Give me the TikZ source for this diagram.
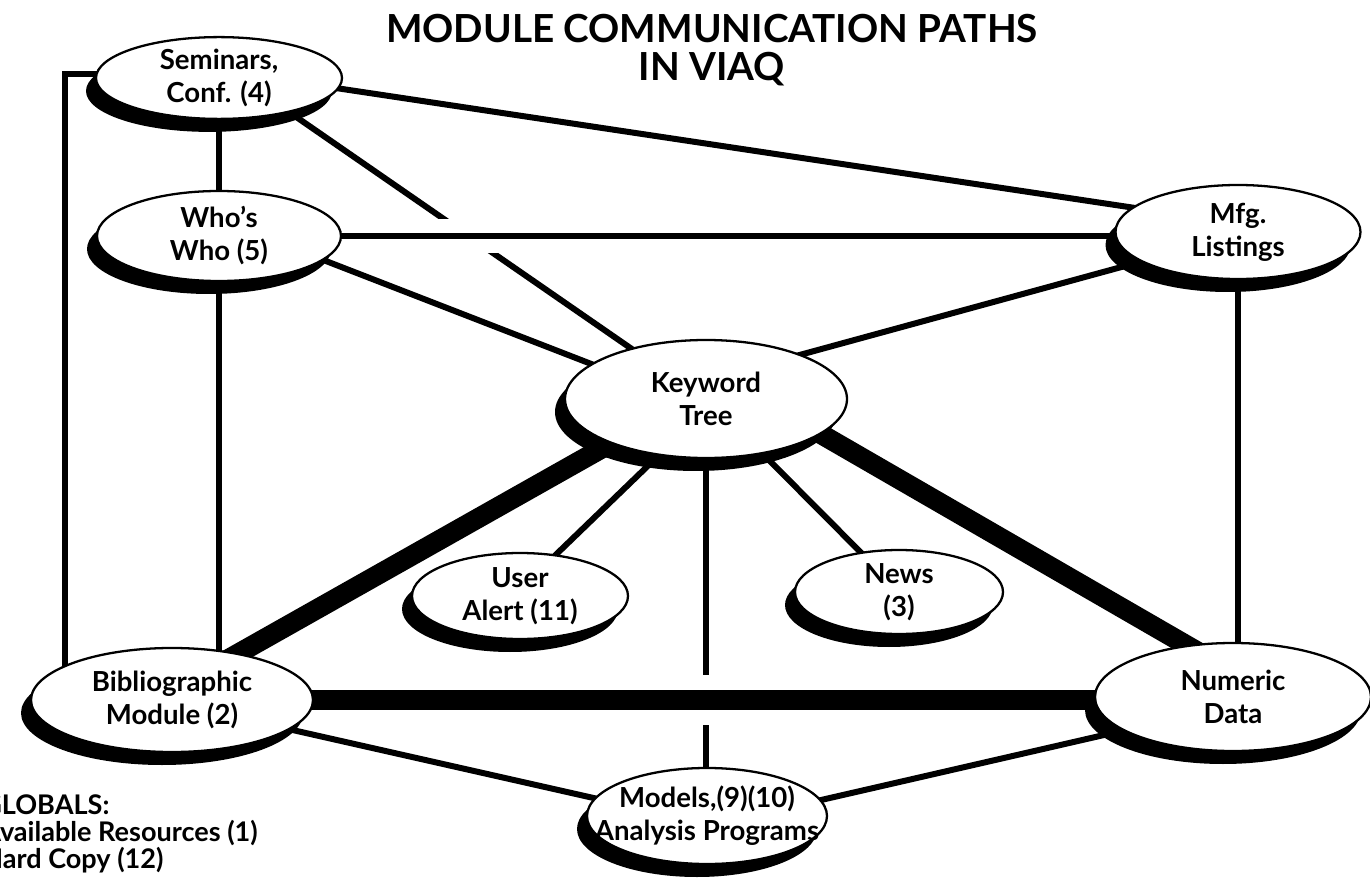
\documentclass[tikz,border=0pt]{standalone}
\usepackage{fontspec}
\setmainfont{Lato}
\usetikzlibrary{shapes.geometric,shadows,backgrounds}
\begin{document}
\begin{tikzpicture}[x=0.02cm,y=-0.02cm,
  modnode/.style 2 args={ellipse, draw=black, line width=1.3pt, fill=white,
    inner xsep=-3cm, inner ysep=0pt,
    minimum width=#1*0.02cm, minimum height=#2*0.02cm, align=center,
    font=\fontsize{15.7}{18.8}\selectfont\bfseries,
    drop shadow={shadow xshift=-0.2cm, shadow yshift=-0.26cm, opacity=1, fill=black}},
  thinlink/.style={line width=0.12cm, shorten <=-0.3cm, shorten >=-0.3cm},
  heavylink/.style={line width=0.4cm, shorten <=-0.4cm, shorten >=-0.4cm},
  bridge/.style={preaction={draw=white, line width=#1}}
]
\useasboundingbox (0,0) rectangle (1370,882);
\clip (0,0) rectangle (1370,882);

\node[font=\fontsize{22}{21.5}\selectfont\bfseries, align=center] (title) at (712,50)
  {MODULE COMMUNICATION PATHS\\IN VIAQ};

\node[modnode={246}{78}]  (sem)  at (219,78)   {Seminars,\\Conf. (4)};
\node[modnode={244}{90}]  (who)  at (219,236)  {Who’s\\Who (5)};
\node[modnode={245}{94}]  (mfg)  at (1238,232) {Mfg.\\Listings};
\node[modnode={282}{118}] (kw)   at (706,399)  {Keyword\\Tree};
\node[modnode={216}{86}]  (ua)   at (520,596)  {User\\Alert (11)};
\node[modnode={208}{84}]  (news) at (899,592)  {News\\(3)};
\node[modnode={282}{104}] (bib)  at (172,700)  {Bibliographic\\Module (2)};
\node[modnode={276}{108}] (num)  at (1233,697) {Numeric\\Data};
\node[modnode={240}{96}]  (mod)  at (707,816)  {Models,(9)(10)\\Analysis Programs};

\node[font=\fontsize{15.4}{15.2}\selectfont\bfseries, align=left, anchor=west, inner sep=0pt]
  (glob) at (-18,834) {GLOBALS:\\Available Resources (1)\\Hard Copy (12)};

\begin{pgfonlayer}{background}
\coordinate (brk) at (65,74);
\draw[line width=0.12cm] (brk -| sem.center) -- (brk) -- (brk |- bib.center);
\draw[thinlink] (sem.center) -- (sem.center |- who.center);
\draw[thinlink] (who.center) -- (who.center |- bib.center);
\draw[thinlink] (sem.-26) -- (kw.146);
\draw[thinlink] (sem.-5) -- (mfg.167);
\draw[thinlink] (who.-13) -- (kw.163);
\draw[thinlink] (mfg.-163) -- (kw.25);
\draw[thinlink] (mfg.center) -- (mfg.center |- num.center);
\draw[thinlink] (kw.-130) -- (ua.49);
\draw[thinlink] (kw.-44) -- (news.134);
\draw[thinlink] (kw.center) -- (kw.center |- mod.center);
\draw[thinlink] (bib.-14) -- (mod.171);
\draw[thinlink] (num.-163) -- (mod.8);
\draw[heavylink] (kw.-155) -- (bib.35);
\draw[heavylink] (kw.-17) -- (num.132);
\draw[thinlink, bridge=0.68cm] (who.east) -- (who.east -| mfg.west);
\draw[heavylink, bridge=1cm] (bib.east) -- (bib.east -| num.west);
\end{pgfonlayer}
\end{tikzpicture}
\end{document}
